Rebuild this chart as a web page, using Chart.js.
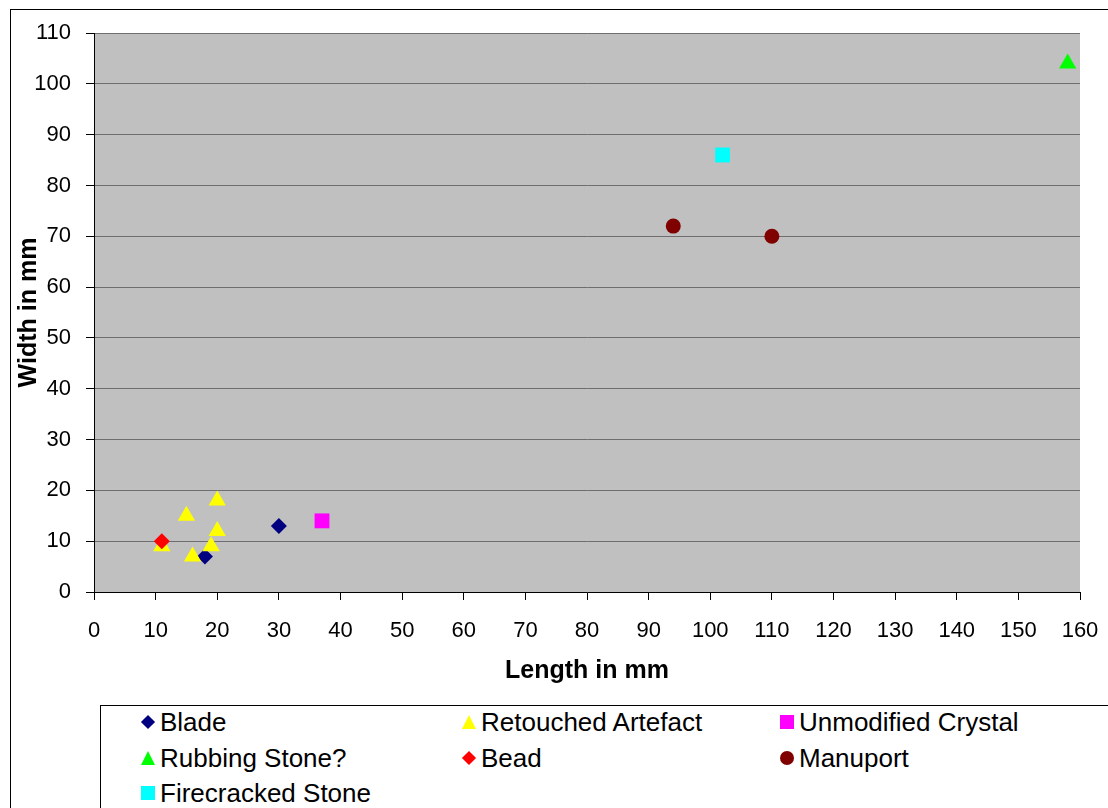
<!DOCTYPE html>
<html>
<head>
<meta charset="utf-8">
<script src="https://cdn.jsdelivr.net/npm/chart.js@4/dist/chart.umd.min.js"></script>
<style>
  body { margin: 0; background: #fff; font-family: "Liberation Sans", Arial, sans-serif; }
  #frame { position: absolute; left: 10px; top: 9px; width: 1200px; height: 900px; border: 1px solid #000; }
  #wrap { position: absolute; left: 0; top: 0; width: 1108px; height: 700px; }
  #legend { position: absolute; left: 100px; top: 705px; width: 1100px; height: 200px; border: 1px solid #000; background: #fff; }
  .item { position: absolute; font-size: 26px; line-height: 30px; color: #000; white-space: nowrap; }
  .mk { display: inline-block; vertical-align: middle; margin-right: 5px; position: relative; top: -2px; }
</style>
</head>
<body>
<div id="frame"></div>
<div id="wrap"><canvas id="scatter"></canvas></div>
<div id="legend"></div>
<script>
// series (length, width in mm)
const bladeX = [18, 30];
const bladeY = [7, 13];
const retouchedX = [11, 15, 16, 19, 20, 20];
const retouchedY = [9, 15, 7, 9, 12, 18];
const crystalX = [37];
const crystalY = [14];
const rubbingX = [158];
const rubbingY = [104];
const beadX = [11];
const beadY = [10];
const manuportX = [94, 110];
const manuportY = [72, 70];
const fireX = [102];
const fireY = [86];

const seriesNames = ["Blade", "Retouched Artefact", "Unmodified Crystal", "Rubbing Stone?", "Bead", "Manuport", "Firecracked Stone"];
const xTitle = "Length in mm";
const yTitle = "Width in mm";

function pts(xs, ys) {
  return xs.map((x, i) => ({ x: x, y: ys[i] }));
}

const series = [
  { name: seriesNames[0], data: pts(bladeX, bladeY), color: "#000080", style: "rectRot", r: 8 },
  { name: seriesNames[1], data: pts(retouchedX, retouchedY), color: "#ffff00", style: "triangle", r: 10 },
  { name: seriesNames[2], data: pts(crystalX, crystalY), color: "#ff00ff", style: "rect", r: 10.5 },
  { name: seriesNames[3], data: pts(rubbingX, rubbingY), color: "#00ff00", style: "triangle", r: 10 },
  { name: seriesNames[4], data: pts(beadX, beadY), color: "#ff0000", style: "rectRot", r: 8 },
  { name: seriesNames[5], data: pts(manuportX, manuportY), color: "#800000", style: "circle", r: 7.5 },
  { name: seriesNames[6], data: pts(fireX, fireY), color: "#00ffff", style: "rect", r: 10.5 },
];

const plotBg = {
  id: "plotBg",
  beforeDraw(chart) {
    const a = chart.chartArea;
    const c = chart.ctx;
    c.save();
    c.fillStyle = "#c0c0c0";
    c.fillRect(a.left, a.top, a.right - a.left, a.bottom - a.top);
    c.restore();
  },
};

const ctx = document.getElementById("scatter");

new Chart(ctx, {
  type: "scatter",
  data: {
    datasets: series.map((s, i) => ({
      label: s.name,
      data: s.data,
      pointStyle: s.style,
      pointRadius: s.r,
      pointHoverRadius: s.r,
      backgroundColor: s.color,
      borderColor: s.color,
      borderWidth: 0,
      order: series.length - i, // later series on top, like the original
    })),
  },
  options: {
    responsive: true,
    maintainAspectRatio: false,
    animation: false,
    layout: { padding: { left: 12, top: 33, right: 28, bottom: 0 } },
    scales: {
      x: {
        type: "linear",
        min: 0,
        max: 160,
        afterFit: (scale) => { scale.height = 108; scale.paddingRight = 0; },
        ticks: { stepSize: 10, color: "#000", padding: 18, font: { family: "Liberation Sans", size: 22 } },
        grid: { drawOnChartArea: false, tickColor: "#000", tickLength: 8 },
        border: { color: "#000", width: 1 },
        title: {
          display: true,
          text: xTitle,
          color: "#000",
          font: { family: "Liberation Sans", size: 25, weight: "bold" },
          padding: { bottom: 14 },
        },
      },
      y: {
        min: 0,
        max: 110,
        afterFit: (scale) => { scale.width = 82; },
        ticks: { stepSize: 10, color: "#000", padding: 15, font: { family: "Liberation Sans", size: 22 } },
        grid: { color: "#6e6e6e", lineWidth: 1, tickColor: "#000", tickLength: 8 },
        border: { color: "#000", width: 1 },
        title: {
          display: true,
          text: yTitle,
          color: "#000",
          font: { family: "Liberation Sans", size: 25, weight: "bold" },
          padding: { top: 2 },
        },
      },
    },
    plugins: {
      legend: { display: false },
      tooltip: { enabled: false },
    },
  },
  plugins: [plotBg],
});

// legend in three columns, like the original
const legend = document.getElementById("legend");
const colX = [40, 361, 679];
series.forEach((s, i) => {
  const item = document.createElement("div");
  item.className = "item";
  item.style.left = colX[i % 3] + "px";
  item.style.top = (1 + Math.floor(i / 3) * 35.5) + "px";
  const mk = document.createElement("span");
  mk.className = "mk";
  if (s.style === "triangle") {
    mk.style.width = "0";
    mk.style.height = "0";
    mk.style.borderLeft = "7px solid transparent";
    mk.style.borderRight = "7px solid transparent";
    mk.style.borderBottom = "14px solid " + s.color;
  } else if (s.style === "rectRot") {
    mk.style.width = "10px";
    mk.style.height = "10px";
    mk.style.background = s.color;
    mk.style.transform = "rotate(45deg)";
    mk.style.margin = "0 7px 0 2px";
  } else if (s.style === "circle") {
    mk.style.width = "14px";
    mk.style.height = "14px";
    mk.style.borderRadius = "50%";
    mk.style.background = s.color;
  } else {
    mk.style.width = "14px";
    mk.style.height = "14px";
    mk.style.background = s.color;
  }
  item.appendChild(mk);
  item.appendChild(document.createTextNode(s.name));
  legend.appendChild(item);
});
</script>
</body>
</html>
